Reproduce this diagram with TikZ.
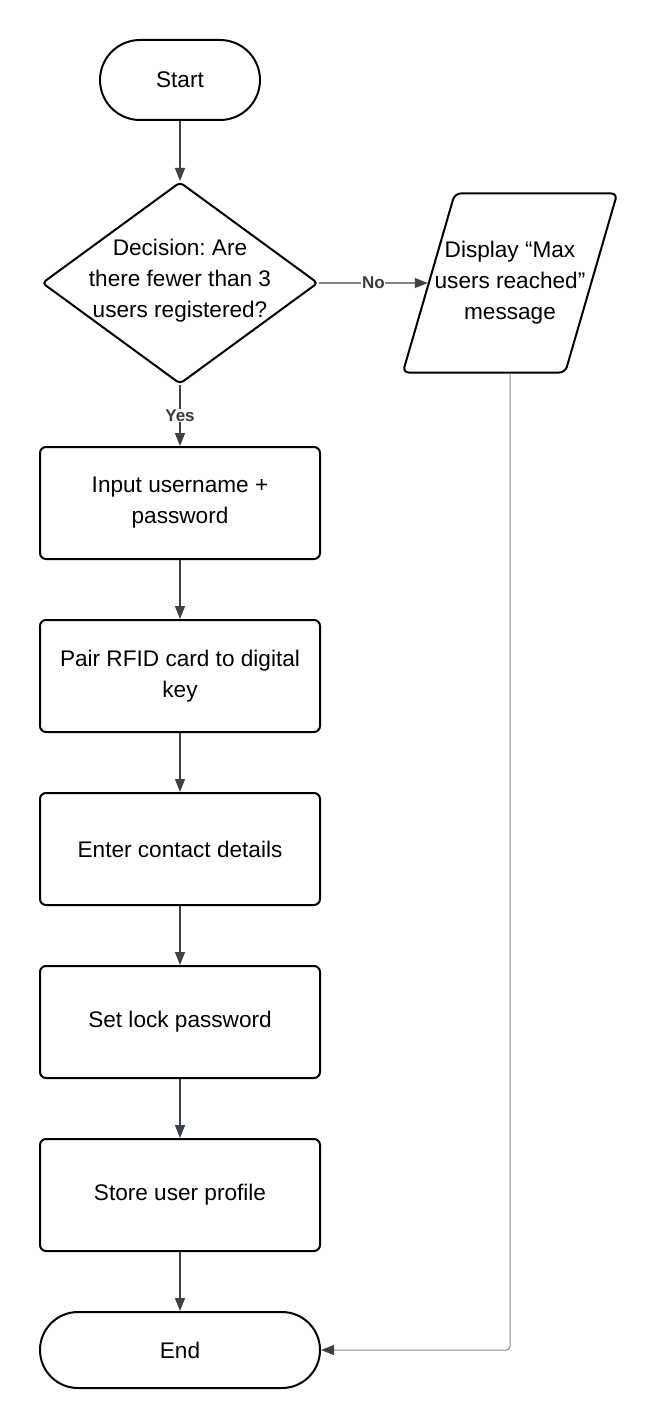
\documentclass[tikz,border=0pt]{standalone}
\usepackage{fontspec}
\setmainfont{Liberation Sans}
\usetikzlibrary{shapes.geometric,arrows.meta}

\definecolor{linec}{HTML}{3B424C}
\definecolor{backc}{HTML}{8A8A8A}
\definecolor{labc}{HTML}{3A3A3A}

\begin{document}
\frenchspacing
\begin{tikzpicture}[x=0.5pt,y=-0.5pt,font={\fontsize{11.3}{15.5}\selectfont}]
        \tikzstyle{every node}=[draw=black,line width=1pt,align=center,inner sep=0pt]
        \tikzstyle{term}=[rectangle,minimum width=80pt,minimum height=40pt,rounded corners=20pt]
        \tikzstyle{stepbox}=[rectangle,minimum width=140pt,minimum height=56pt,rounded corners=3pt]
        \tikzstyle{decision}=[diamond,minimum width=138pt,minimum height=101pt,rounded corners=2pt]
        \tikzstyle{io}=[trapezium,trapezium left angle=76,trapezium right angle=104,trapezium stretches=true,minimum width=108pt,inner xsep=-14pt,inner ysep=24pt,rounded corners=3pt]
        \tikzstyle{plain}=[draw=none]
        \tikzstyle{conn}=[draw=linec,line width=0.7pt,-{Triangle[length=6.5pt,width=5pt]}]
        \tikzstyle{back}=[draw=backc,line width=0.5pt,rounded corners=2pt,-{Triangle[length=6.5pt,width=5pt,color=linec]}]
        \tikzstyle{lab}=[draw=none,fill=white,text=labc,font={\fontsize{8.5}{10}\selectfont\bfseries},inner sep=0.3pt]
        \useasboundingbox (0,0) rectangle (660,1428);
        \node[term] (start) at (180,80) {Start};
        \node[decision] (dec) at (180,283) {};
        \node[plain] (dectext) at (180,281) {Decision: Are\\there fewer than 3\\users registered?};
        \node[io] (disp) at (510,283) {Display “Max\\users reached”\\message};
        \node[stepbox] (s1) at (180,503) {Input username +\\password};
        \node[stepbox] (s2) at (180,676) {Pair RFID card to digital\\key};
        \node[stepbox] (s3) at (180,849) {Enter contact details};
        \node[stepbox] (s4) at (180,1022) {Set lock password};
        \node[stepbox] (s5) at (180,1195) {Store user profile};
        \node[term,minimum width=140pt,minimum height=38pt,rounded corners=19pt] (end) at (180,1350) {End};
        \draw[conn] (start) -- (dec);
        \draw[conn] (dec) -- node[lab] (no) {No} (disp);
        \draw[conn] (dec) -- node[lab] (yes) {Yes} (s1);
        \draw[conn] (s1) -- (s2);
        \draw[conn] (s2) -- (s3);
        \draw[conn] (s3) -- (s4);
        \draw[conn] (s4) -- (s5);
        \draw[conn] (s5) -- (end);
        \draw[back] (disp.south) |- (end.east);
    \end{tikzpicture}
\end{document}
